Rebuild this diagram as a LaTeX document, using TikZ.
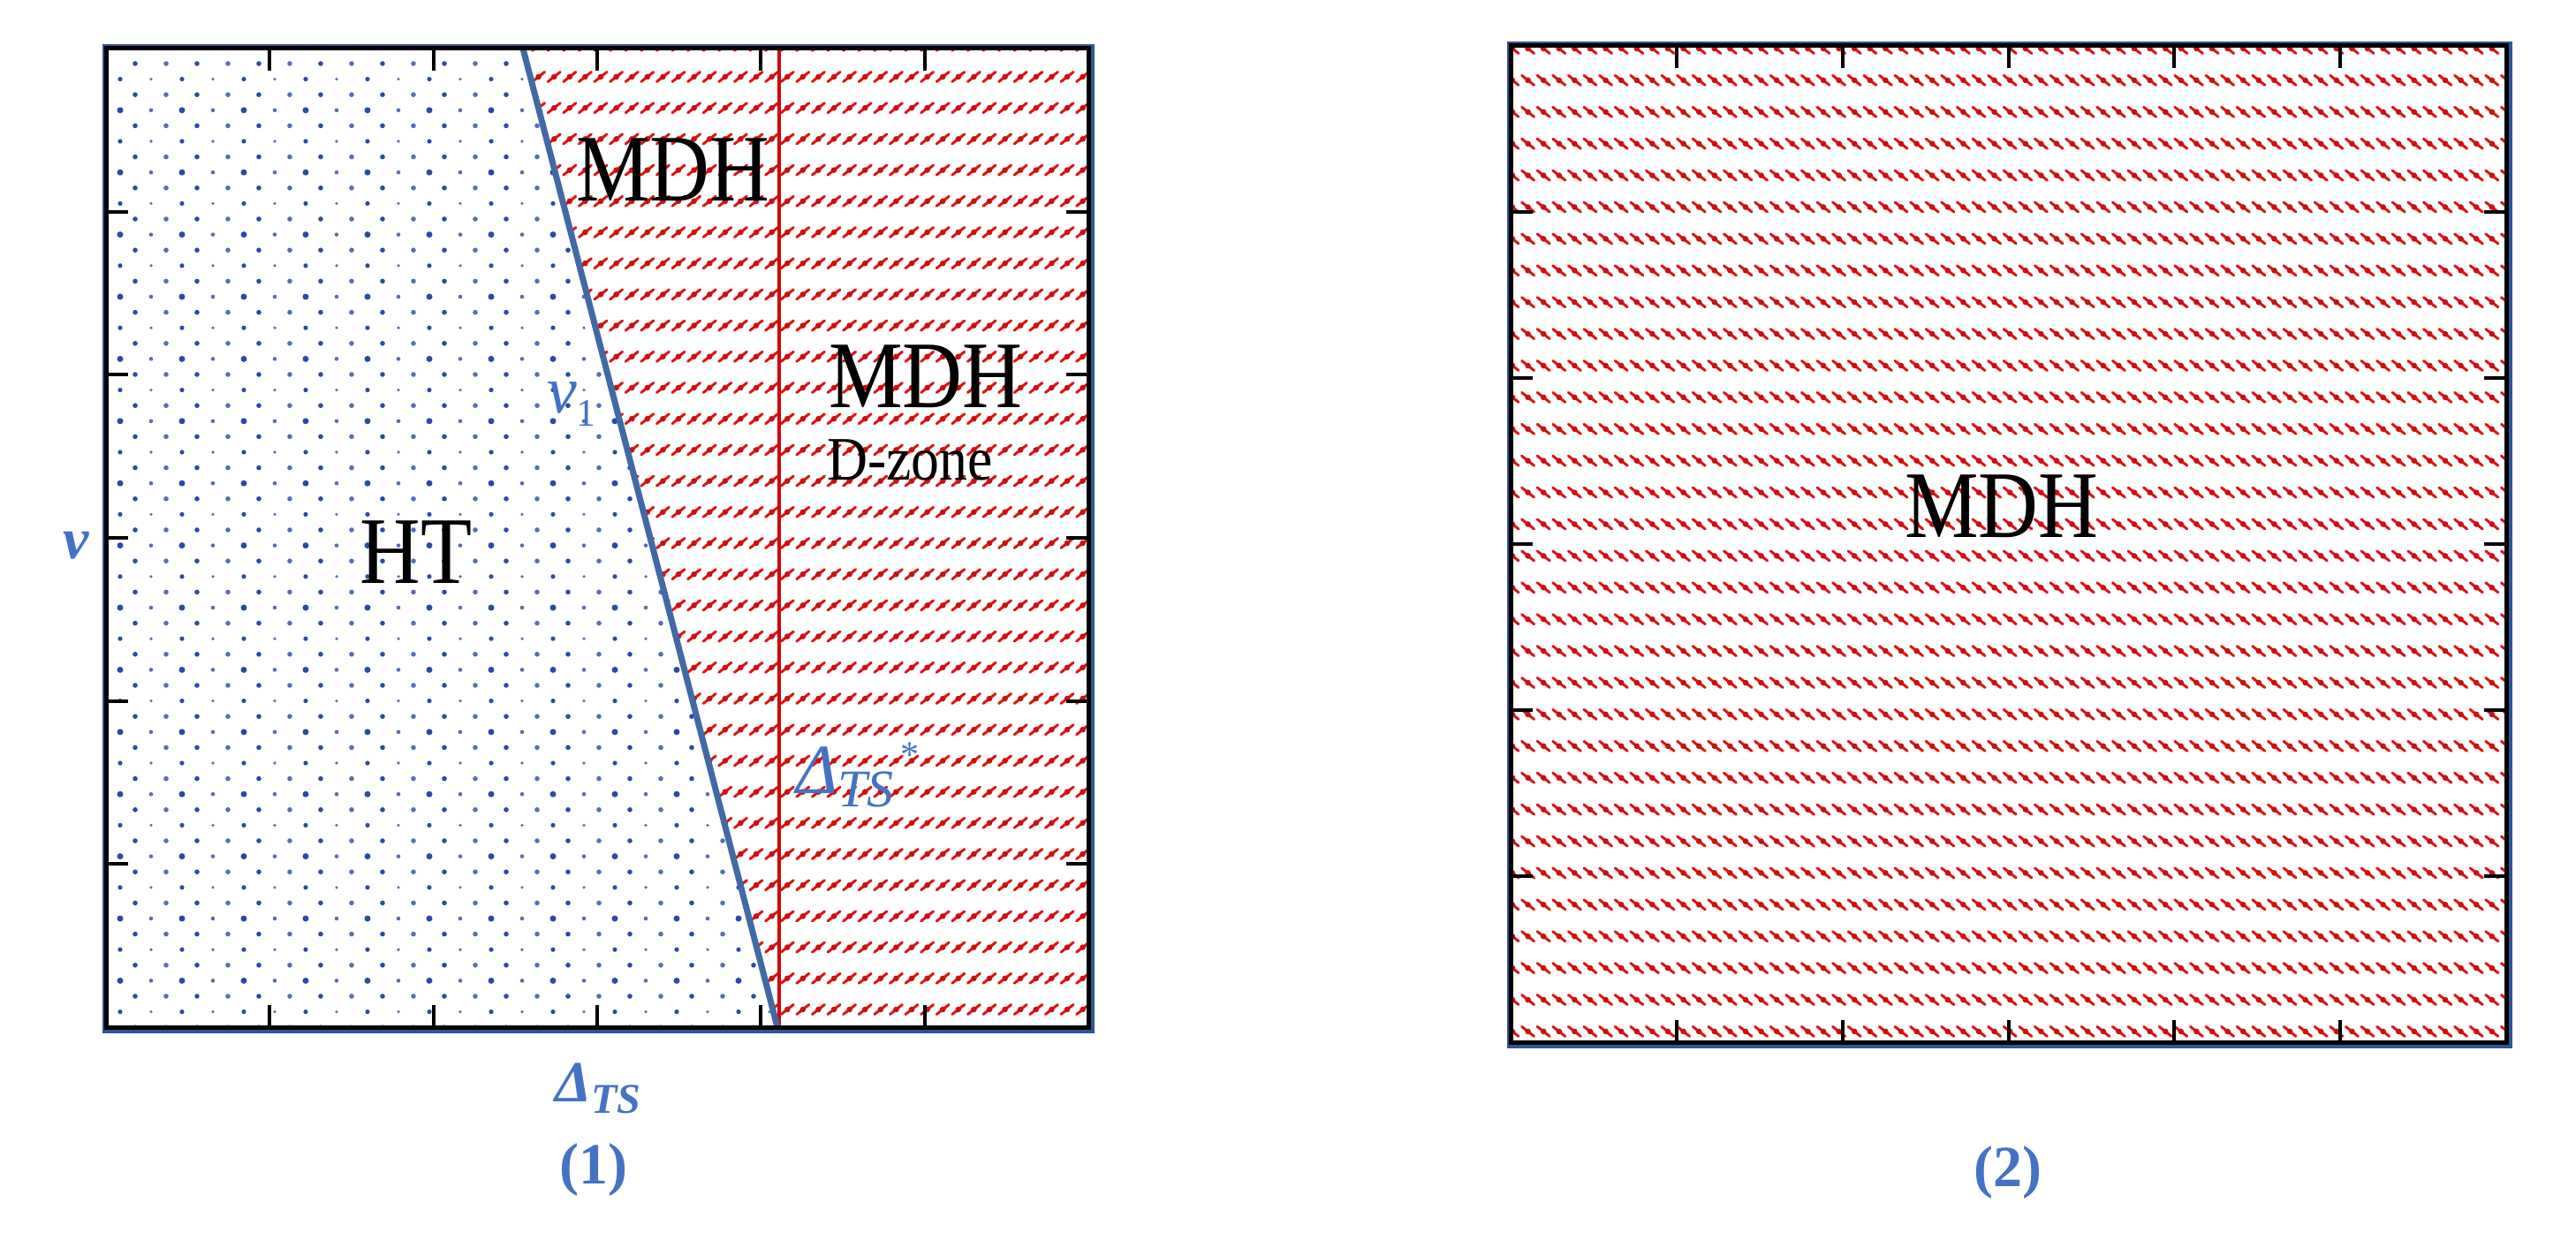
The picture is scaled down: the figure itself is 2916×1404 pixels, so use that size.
\documentclass[tikz,border=0pt]{standalone}
\usepackage{graphicx}
\usepackage{fontspec}
\setmainfont{Liberation Serif}
\definecolor{txtblue}{RGB}{68,114,196}
\definecolor{dotblue}{RGB}{40,75,165}
\definecolor{lineblue}{RGB}{65,105,165}
\definecolor{frameblue}{RGB}{47,85,151}
\definecolor{hatchred}{RGB}{222,20,20}
\definecolor{redline}{RGB}{205,10,10}
\tikzset{
  bigtxt/.style={font=\fontsize{108}{108}\selectfont, inner sep=0pt, anchor=base},
  bluetxt/.style={text=txtblue, inner sep=0pt},
  fblue/.style={draw=frameblue, line width=5pt},
  fblack/.style={draw=black, line width=5pt},
  tickline/.style={draw=black, line width=4pt},
  hstroke/.style={draw=hatchred, line width=3pt, line cap=round},
  hdot/.style={fill=hatchred!90!black},
}
\begin{document}
\begin{tikzpicture}[x=1pt,y=-1pt]
\useasboundingbox (0,0) rectangle (2916,1404);
\fill[white] (0,0) rectangle (2916,1404);
% ---------- left panel coordinates
\coordinate (LA) at (120,55);
\coordinate (LB) at (1232,1163);
\coordinate (btop) at (592,55);
\coordinate (bbot) at (880,1163);
\coordinate (rtop) at (882,55);
\coordinate (rbot) at (882,1163);
% dots (HT region)
\begin{scope}
\clip (120,55) -- (btop) -- (bbot) -- (120,1163) -- cycle;
\foreach \k in {0,...,62} {
  \pgfmathsetmacro{\yy}{72+17.6*\k}
  \pgfmathtruncatemacro{\m}{mod(\k,4)}
  \ifcase\m\relax
    \def\ra{2.8}\def\rb{2.8}\def\xo{153}%
  \or
    \def\ra{2.6}\def\rb{1.8}\def\xo{136}%
  \or
    \def\ra{2.8}\def\rb{2.8}\def\xo{153}%
  \else
    \def\ra{3.5}\def\rb{2.3}\def\xo{136}%
  \fi
  \fill[dotblue] foreach \i in {0,2,...,24} {(\xo+35*\i,\yy) circle (\ra pt)};
  \fill[dotblue!80] foreach \i in {1,3,...,25} {(\xo+35*\i,\yy) circle (\rb pt)};
}
\end{scope}
% red hatch left
\begin{scope}
\clip (btop) -- (1232,55) -- (1232,1163) -- (bbot) -- cycle;
\foreach \j in {0,...,31} {
  \pgfmathsetmacro{\yy}{51.8+35.2*\j}
  \draw[hstroke] foreach \i in {0,...,37} {(585+17.6*\i,\yy+5.5) -- ++(14,-11)};
  \fill[hdot] foreach \i in {0,...,37} {(592+17.6*\i,\yy) circle (3.3pt)};
}
\end{scope}
% red hatch right panel
\begin{scope}
\clip (1710,52) rectangle (2837,1180);
\foreach \j in {0,...,31} {
  \pgfmathsetmacro{\yy}{55+35.9*\j}
  \draw[hstroke] foreach \i in {0,...,64} {(1705+17.6*\i,\yy-5.5) -- ++(14,11)};
  \fill[hdot] foreach \i in {0,...,64} {(1712+17.6*\i,\yy) circle (3.3pt)};
}
\end{scope}
% lines
\draw[redline, line width=4pt] (rtop) -- (rbot);
\draw[lineblue, line width=7pt] (btop) -- (bbot);
% frames
\draw[fblue] (118,53) rectangle (1236,1167);
\draw[fblack] (LA) rectangle (LB);
\draw[fblue] (1708,50) rectangle (2841,1184);
\draw[fblack] (1710,52) rectangle (2837,1180);
% ticks
\foreach \k in {1,...,5} {
  \pgfmathsetmacro{\xx}{120+185.33*\k}
  \pgfmathsetmacro{\yy}{55+184.67*\k}
  \draw[tickline] (\xx,55) -- (\xx,80);
  \draw[tickline] (\xx,1163) -- (\xx,1138);
  \draw[tickline] (120,\yy) -- (145,\yy);
  \draw[tickline] (1232,\yy) -- (1207,\yy);
  \pgfmathsetmacro{\xr}{1710+187.83*\k}
  \pgfmathsetmacro{\yr}{52+188*\k}
  \draw[tickline] (\xr,52) -- (\xr,77);
  \draw[tickline] (\xr,1180) -- (\xr,1155);
  \draw[tickline] (1710,\yr) -- (1735,\yr);
  \draw[tickline] (2837,\yr) -- (2812,\yr);
}
% texts
\node[bigtxt] (mdhA) at (762,228) {\scalebox{0.87}[1]{MDH}};
\node[bigtxt] (mdhB) at (1048,461) {\scalebox{0.87}[1]{MDH}};
\node[bigtxt] (ht) at (471,660) {\scalebox{0.88}[1]{HT}};
\node[bigtxt] (mdhC) at (2266,608) {\scalebox{0.87}[1]{MDH}};
\node[font=\fontsize{70}{70}\selectfont, inner sep=0pt, anchor=base] (dz) at (1030,543) {\scalebox{0.91}[1]{D-zone}};
\node[bluetxt, anchor=base west, font=\fontsize{76}{76}\selectfont] (v1) at (619,467)
  {\textit{v}\raisebox{-15pt}{\fontsize{44}{44}\selectfont 1}};
\node[bluetxt, anchor=base west, font=\fontsize{80}{80}\selectfont\itshape] (dts) at (901,898)
  {Δ\raisebox{-15pt}{\fontsize{60}{60}\selectfont TS}\kern6pt\raisebox{30pt}{\fontsize{42}{42}\selectfont *}};
\node[bluetxt, anchor=base, font=\fontsize{66}{66}\selectfont\bfseries\itshape] (vax) at (86,632) {v};
\node[bluetxt, anchor=base west, font=\fontsize{66}{66}\selectfont\bfseries\itshape] (dax) at (628,1247)
  {Δ\raisebox{-13pt}{\fontsize{48}{48}\selectfont TS}};
\node[bluetxt, anchor=base, font=\fontsize{66}{66}\selectfont\bfseries] (c1) at (672,1340) {(1)};
\node[bluetxt, anchor=base, font=\fontsize{66}{66}\selectfont\bfseries] (c2) at (2273,1343) {(2)};
\end{tikzpicture}
\end{document}
